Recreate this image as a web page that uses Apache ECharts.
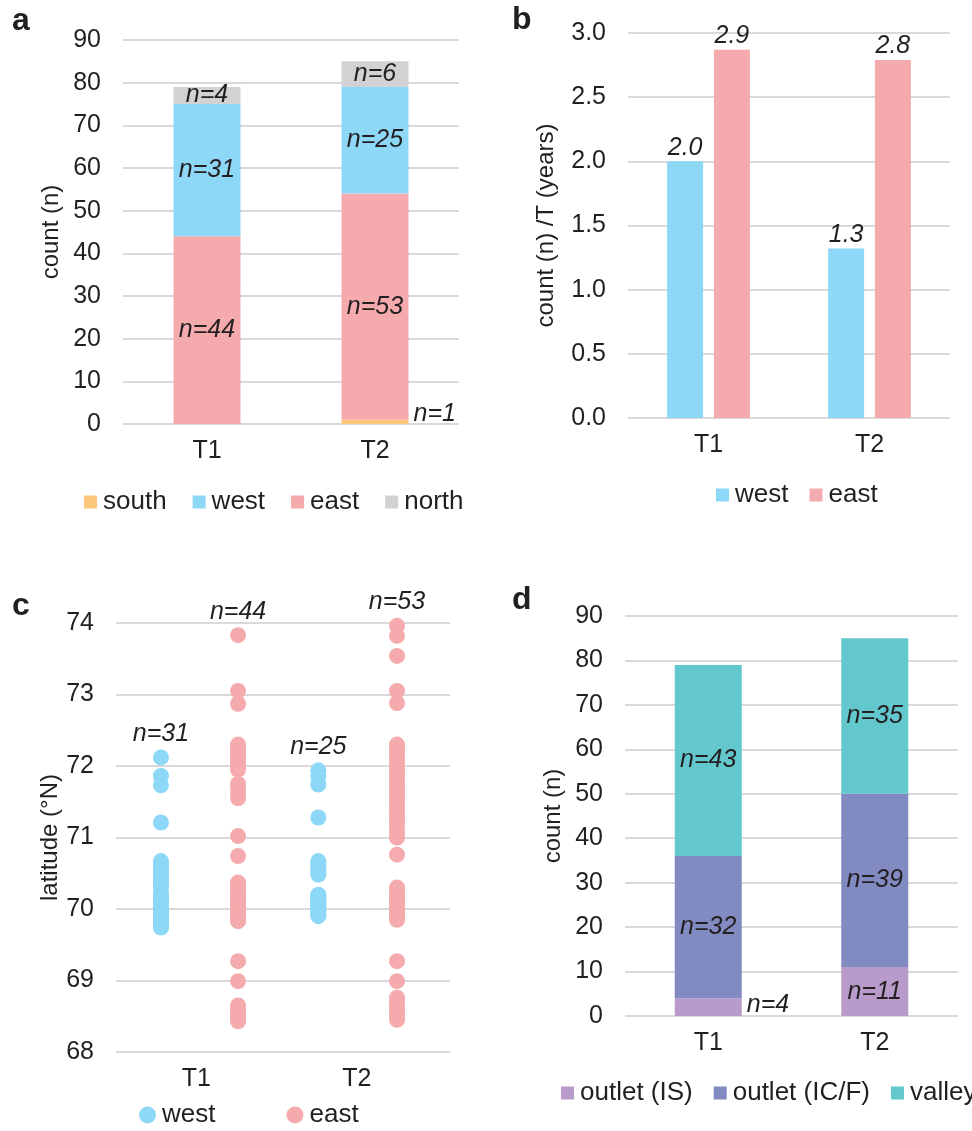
<!DOCTYPE html>
<html>
<head>
<meta charset="utf-8">
<script src="https://cdn.jsdelivr.net/npm/echarts@6/dist/echarts.min.js"></script>
<style>
  html, body { margin: 0; padding: 0; background: #fff; }
  #chart { width: 972px; height: 1131px; }
</style>
</head>
<body>
<div id="chart"></div>
<script>
// ---- data ----
const periods = ['T1', 'T2'];

// panel a: count by side
const southCounts = [0, 1];
const eastCounts = [44, 53];
const westCounts = [31, 25];
const northCounts = [4, 6];

// panel b: count per year
const westRate = [2.0, 1.32];
const eastRate = [2.87, 2.79];

// panel c: latitudes (°N)
const westLatT1 = [72.12, 71.86, 71.73, 71.21,
  70.67, 70.62, 70.58, 70.55, 70.5, 70.46, 70.42, 70.38, 70.35, 70.3,
  70.22, 70.18, 70.15, 70.12, 70.1, 70.07, 70.04, 70.01, 69.98, 69.95,
  69.92, 69.89, 69.85, 69.82, 69.79, 69.76, 69.74];
const eastLatT1 = [73.83, 73.05, 72.87,
  72.3, 72.26, 72.2, 72.15, 72.1, 72.05, 72.0, 71.95,
  71.75, 71.7, 71.62, 71.55,
  71.02, 70.74,
  70.37, 70.33, 70.29, 70.25, 70.22, 70.19, 70.16, 70.13, 70.1, 70.07,
  70.04, 70.01, 69.98, 69.95, 69.92, 69.89, 69.87, 69.85, 69.83,
  69.27, 68.99,
  68.65, 68.6, 68.55, 68.5, 68.46, 68.43];
const westLatT2 = [71.94, 71.85, 71.74, 71.28,
  70.67, 70.63, 70.6, 70.56, 70.52, 70.48,
  70.2, 70.18, 70.16, 70.14, 70.12, 70.1, 70.08, 70.06, 70.04, 70.02,
  70.0, 69.97, 69.94, 69.92, 69.9];
const eastLatT2 = [73.96, 73.82, 73.54, 73.05, 72.88,
  72.3, 72.25, 72.2, 72.15, 72.1, 72.05, 72.0, 71.95, 71.9, 71.85,
  71.8, 71.75, 71.7, 71.65, 71.6, 71.55, 71.5, 71.45, 71.4, 71.35,
  71.3, 71.25, 71.2, 71.12, 71.05, 71.0,
  70.76,
  70.3, 70.26, 70.22, 70.18, 70.14, 70.1, 70.06, 70.02, 69.98, 69.94, 69.9, 69.85,
  69.27, 68.99,
  68.76, 68.7, 68.65, 68.6, 68.55, 68.5, 68.45];

// panel d: count by type
const outletIS = [4, 11];
const outletICF = [32, 39];
const valley = [43, 35];

// ---- style ----
const FONT = 'Liberation Sans';
const TXT = '#231F20';
const GRID_LINE = '#D9D9D9';
const C_SOUTH = '#FDC87C';
const C_WEST = '#8DD7F7';
const C_EAST = '#F5ABAD';
const C_NORTH = '#D1D2D4';
const C_IS = '#B89BCA';
const C_ICF = '#828AC2';
const C_VALLEY = '#63C8CE';

const chart = echarts.init(document.getElementById('chart'));

function catAxis(gridIndex) {
  return {
    type: 'category', gridIndex: gridIndex, data: periods,
    axisLine: { show: false }, axisTick: { show: false },
    axisLabel: { fontFamily: FONT, fontSize: 25, color: TXT, margin: 15 }
  };
}
function valAxis(gridIndex, min, max, interval, name, nameGap, fmt) {
  return {
    type: 'value', gridIndex: gridIndex, min: min, max: max, interval: interval,
    name: name, nameLocation: 'middle', nameGap: nameGap, nameRotate: 90,
    nameTextStyle: { fontFamily: FONT, fontSize: 24, color: TXT },
    axisLine: { show: false }, axisTick: { show: false },
    axisLabel: { fontFamily: FONT, fontSize: 25, color: TXT, margin: 22, formatter: fmt },
    splitLine: { show: true, lineStyle: { color: GRID_LINE, width: 2 } }
  };
}
const nLabel = {
  show: true, position: 'inside', fontFamily: FONT, fontSize: 25,
  fontStyle: 'italic', color: TXT,
  formatter: p => (p.value ? 'n=' + p.value : '')
};
function stackBar(name, data, color, xi, stack, labelExtra) {
  return {
    name: name, type: 'bar', stack: stack, xAxisIndex: xi, yAxisIndex: xi,
    data: data, barWidth: 67, itemStyle: { color: color },
    label: Object.assign({}, nLabel, labelExtra || {})
  };
}
// scatter x: group index plus a side offset
function latPoints(lats, group, offset) {
  const top = Math.max.apply(null, lats);
  let done = false;
  return lats.map(v => {
    const item = { value: [group + offset, v] };
    if (v === top && !done) {
      done = true;
      item.label = {
        show: true, position: 'top', distance: 3, fontFamily: FONT, fontSize: 25,
        fontStyle: 'italic', color: TXT, formatter: 'n=' + lats.length
      };
    }
    return item;
  });
}
function legendOf(names, left, top, gap, icon, size) {
  return {
    data: names, left: left, top: top, itemGap: gap, icon: icon,
    itemWidth: size, itemHeight: size, width: 600, selectedMode: false,
    textStyle: { fontFamily: FONT, fontSize: 26, color: TXT, padding: [0, 0, 0, 1] }
  };
}
function letter(t, x, y) {
  return {
    type: 'text', left: x, top: y,
    style: { text: t, fontFamily: FONT, fontSize: 32, fontWeight: 'bold', fill: TXT }
  };
}

const option = {
  animation: false,
  backgroundColor: '#fff',
  textStyle: { fontFamily: FONT },
  graphic: [letter('a', 12, 5), letter('b', 512, 4), letter('c', 12, 590), letter('d', 512, 584)],
  grid: [
    { left: 123, top: 40, width: 336, height: 384 },
    { left: 628, top: 33, width: 322, height: 385 },
    { left: 116, top: 623, width: 334, height: 429 },
    { left: 625, top: 616, width: 333, height: 400 }
  ],
  xAxis: [
    catAxis(0),
    catAxis(1),
    {
      type: 'value', gridIndex: 2, min: -0.5, max: 1.58, interval: 0.5,
      axisLine: { show: false }, axisTick: { show: false }, splitLine: { show: false },
      axisLabel: {
        fontFamily: FONT, fontSize: 25, color: TXT, margin: 15,
        formatter: v => (v === 0 ? periods[0] : v === 1 ? periods[1] : '')
      }
    },
    catAxis(3)
  ],
  yAxis: [
    valAxis(0, 0, 90, 10, 'count (n)', 60),
    valAxis(1, 0, 3, 0.5, 'count (n) /T (years)', 70, v => v.toFixed(1)),
    valAxis(2, 68, 74, 1, 'latitude (°N)', 52),
    valAxis(3, 0, 90, 10, 'count (n)', 60)
  ],
  legend: [
    legendOf(['south', 'west', 'east', 'north'], 79, 484, 26, 'rect', 13),
    legendOf(['west', 'east'], 711, 477, 21, 'rect', 13),
    legendOf(['west', 'east'], 134, 1097, 71, 'circle', 17),
    legendOf(['outlet (IS)', 'outlet (IC/F)', 'valley'], 556, 1075, 21, 'rect', 13)
  ],
  series: [
    // a
    stackBar('south', southCounts, C_SOUTH, 0, 'a', { position: 'right', offset: [0, -8] }),
    stackBar('east', eastCounts, C_EAST, 0, 'a'),
    stackBar('west', westCounts, C_WEST, 0, 'a'),
    stackBar('north', northCounts, C_NORTH, 0, 'a'),
    // b
    {
      name: 'west', type: 'bar', xAxisIndex: 1, yAxisIndex: 1, data: westRate,
      barWidth: 36, barGap: '30%', itemStyle: { color: C_WEST },
      label: { show: true, position: 'top', distance: 1, fontFamily: FONT, fontSize: 25,
        fontStyle: 'italic', color: TXT, formatter: p => p.value.toFixed(1) }
    },
    {
      name: 'east', type: 'bar', xAxisIndex: 1, yAxisIndex: 1, data: eastRate,
      barWidth: 36, barGap: '30%', itemStyle: { color: C_EAST },
      label: { show: true, position: 'top', distance: 1, fontFamily: FONT, fontSize: 25,
        fontStyle: 'italic', color: TXT, formatter: p => p.value.toFixed(1) }
    },
    // c
    { name: 'west', type: 'scatter', xAxisIndex: 2, yAxisIndex: 2, symbolSize: 16,
      itemStyle: { color: C_WEST, opacity: 1 }, data: latPoints(westLatT1, 0, -0.22) },
    { name: 'east', type: 'scatter', xAxisIndex: 2, yAxisIndex: 2, symbolSize: 16,
      itemStyle: { color: C_EAST, opacity: 1 }, data: latPoints(eastLatT1, 0, 0.26) },
    { name: 'west', type: 'scatter', xAxisIndex: 2, yAxisIndex: 2, symbolSize: 16,
      itemStyle: { color: C_WEST, opacity: 1 }, data: latPoints(westLatT2, 1, -0.24) },
    { name: 'east', type: 'scatter', xAxisIndex: 2, yAxisIndex: 2, symbolSize: 16,
      itemStyle: { color: C_EAST, opacity: 1 }, data: latPoints(eastLatT2, 1, 0.25) },
    // d
    stackBar('outlet (IS)', outletIS.map(v => (v < 6 ? { value: v, label: { position: 'right', offset: [0, -2] } } : v)), C_IS, 3, 'd'),
    stackBar('outlet (IC/F)', outletICF, C_ICF, 3, 'd'),
    stackBar('valley', valley, C_VALLEY, 3, 'd')
  ]
};

chart.setOption(option);
window.addEventListener('resize', () => chart.resize());
</script>
</body>
</html>
